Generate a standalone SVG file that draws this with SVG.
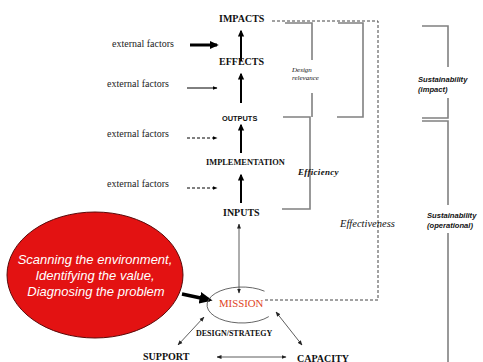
<svg xmlns="http://www.w3.org/2000/svg" width="483" height="362" viewBox="0 0 483 362">
  <defs>
    <marker id="head" viewBox="0 0 10 10" refX="8" refY="5" markerWidth="7" markerHeight="7" orient="auto" markerUnits="userSpaceOnUse">
      <path d="M0,0.5 L10,5 L0,9.5 z" fill="#000"/>
    </marker>
    <marker id="headSmall" viewBox="0 0 10 10" refX="9" refY="5" markerWidth="5" markerHeight="5" orient="auto" markerUnits="userSpaceOnUse">
      <path d="M0,1 L10,5 L0,9 z" fill="#000"/>
    </marker>
    <marker id="headThin" viewBox="0 0 10 10" refX="9" refY="5" markerWidth="5" markerHeight="5" orient="auto-start-reverse" markerUnits="userSpaceOnUse">
      <path d="M0,1 L10,5 L0,9 z" fill="#222"/>
    </marker>
    <marker id="headBold" viewBox="0 0 10 10" refX="8" refY="5" markerWidth="9" markerHeight="9" orient="auto" markerUnits="userSpaceOnUse">
      <path d="M0,0.5 L10,5 L0,9.5 z" fill="#000"/>
    </marker>
    <marker id="headBig" viewBox="0 0 10 10" refX="8" refY="5" markerWidth="13" markerHeight="13" orient="auto" markerUnits="userSpaceOnUse">
      <path d="M0,0.5 L10,5 L0,9.5 z" fill="#000"/>
    </marker>
  </defs>
  <style>
    .stage { font-family: "Liberation Serif", "Times New Roman", serif; font-weight: bold; fill: #111; }
    .small { font-family: "Liberation Sans", Arial, sans-serif; font-weight: bold; fill: #111; }
    .ext { font-family: "Liberation Serif", "Times New Roman", serif; font-size: 10px; fill: #222; }
    .ital { font-family: "Liberation Serif", "Times New Roman", serif; font-style: italic; fill: #111; }
    .sust { font-family: "Liberation Sans", Arial, sans-serif; font-style: italic; font-weight: bold; font-size: 7.6px; fill: #111; }
    .bracket { fill: none; stroke: #808080; stroke-width: 1.6; }
    .dash { fill: none; stroke: #444; stroke-width: 1; stroke-dasharray: 3 2; }
    .up { stroke: #000; stroke-width: 2; marker-end: url(#head); }
    .side { stroke: #000; stroke-width: 1; marker-end: url(#headSmall); }
    .thin { stroke: #333; stroke-width: 0.8; marker-start: url(#headThin); marker-end: url(#headThin); fill: none; }
  </style>

  <rect width="483" height="362" fill="#fff"/>

  <!-- connectors -->
  <g id="connectors">
    <!-- results chain -->
    <line class="up" x1="241" y1="61" x2="241" y2="31"/>
    <line class="up" x1="241" y1="103" x2="241" y2="74"/>
    <line class="up" x1="241" y1="153" x2="241" y2="125"/>
    <line class="up" x1="241" y1="203" x2="241" y2="175"/>
    <line class="thin" x1="239" y1="224" x2="239" y2="293"/>

    <!-- external factors arrows -->
    <line x1="190" y1="45" x2="217" y2="45" stroke="#000" stroke-width="3" marker-end="url(#headBold)"/>
    <line class="side" x1="187" y1="88" x2="217" y2="88"/>
    <line class="side" x1="187" y1="138" x2="217" y2="138" stroke-dasharray="3 2"/>
    <line class="side" x1="187" y1="188" x2="217" y2="188" stroke-dasharray="3 2"/>

    <!-- effectiveness loop -->
    <path class="dash" d="M272,21 H378 V300 H265"/>

    <!-- brackets -->
    <path class="bracket" d="M285,23 H312 V60 M312,93 V117"/>
    <path class="bracket" d="M283,117 H310 V209 H282"/>
    <path class="bracket" d="M338,23 H363 V117 H337"/>
    <path class="bracket" d="M422,26 H448 V67 M448,98 V118 H422 M422,121 H448 V205 M448,233 V362"/>

    <!-- diagnosis into mission -->
    <line x1="182" y1="294" x2="210" y2="300" stroke="#000" stroke-width="3.5" marker-end="url(#headBig)"/>

    <!-- mission triangle -->
    <line class="thin" x1="178" y1="345" x2="204" y2="317"/>
    <line class="thin" x1="276" y1="312" x2="302" y2="345"/>
    <line class="thin" x1="217" y1="357" x2="286" y2="357"/>
  </g>

  <!-- stages -->
  <g id="impacts"><text class="stage" x="219" y="22" font-size="10">IMPACTS</text></g>
  <g id="effects"><text class="stage" x="219" y="65" font-size="10">EFFECTS</text></g>
  <g id="outputs"><text class="small" x="222" y="121" font-size="7.4">OUTPUTS</text></g>
  <g id="implementation"><text class="stage" x="206" y="165" font-size="8.4">IMPLEMENTATION</text></g>
  <g id="inputs"><text class="stage" x="223" y="215.5" font-size="10">INPUTS</text></g>

  <!-- external factors -->
  <g id="ext1"><text class="ext" x="112" y="46.5">external factors</text></g>
  <g id="ext2"><text class="ext" x="107" y="86.5">external factors</text></g>
  <g id="ext3"><text class="ext" x="107" y="136.5">external factors</text></g>
  <g id="ext4"><text class="ext" x="107" y="186.5">external factors</text></g>

  <!-- bracket labels -->
  <g id="design-relevance">
    <text class="ital" font-size="7" x="292" y="72">Design</text>
    <text class="ital" font-size="7" x="292" y="80">relevance</text>
  </g>
  <g id="efficiency"><text class="ital" font-weight="bold" font-size="9" letter-spacing="0.3" x="298" y="175">Efficiency</text></g>
  <g id="effectiveness"><text class="ital" font-size="10.5" x="340" y="227">Effectiveness</text></g>
  <g id="sustainability-impact">
    <text class="sust" x="418" y="82">Sustainability</text>
    <text class="sust" x="418" y="92">(impact)</text>
  </g>
  <g id="sustainability-operational">
    <text class="sust" x="427" y="218">Sustainability</text>
    <text class="sust" x="427" y="228">(operational)</text>
  </g>

  <!-- diagnosis -->
  <g id="diagnosis">
    <ellipse cx="95" cy="275" rx="88" ry="63" fill="#e31212" stroke="#5a0a0a" stroke-width="1"/>
    <g font-family="'Liberation Sans', Arial, sans-serif" font-style="italic" font-size="13" fill="#fff" text-anchor="middle">
      <text x="95" y="264">Scanning the environment,</text>
      <text x="95" y="280">Identifying the value,</text>
      <text x="96" y="296">Diagnosing the problem</text>
    </g>
  </g>

  <!-- mission -->
  <g id="mission">
    <path d="M264.5,291.2 A35,18 0 1 0 268.8,316.6" fill="none" stroke="#555" stroke-width="0.9"/>
    <text x="219" y="307" font-family="'Liberation Serif', 'Times New Roman', serif" font-size="10.8" fill="#e0441c">MISSION</text>
  </g>
  <g id="design-strategy"><text class="stage" x="196" y="336" font-size="8">DESIGN/STRATEGY</text></g>
  <g id="support"><text class="stage" x="143" y="360" font-size="10">SUPPORT</text></g>
  <g id="capacity"><text class="stage" x="297" y="361.5" font-size="10">CAPACITY</text></g>
</svg>
